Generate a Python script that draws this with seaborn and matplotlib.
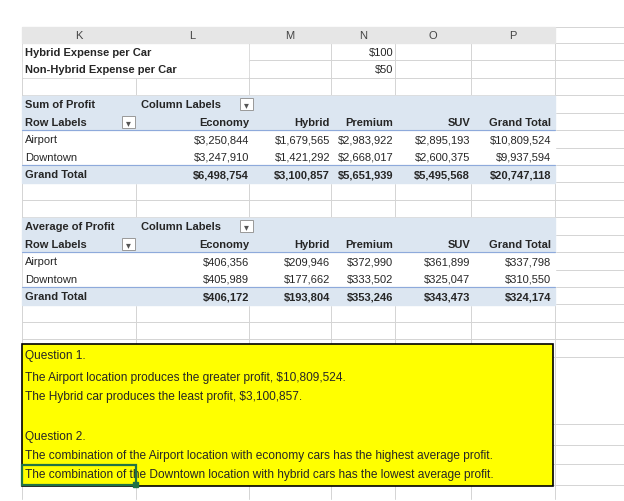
import matplotlib.pyplot as plt
import matplotlib.patches as mpatches
import seaborn as sns

sns.set_theme(style="white")
plt.rcParams['font.family'] = ['Liberation Sans', 'DejaVu Sans']

col_letters = ['K', 'L', 'M', 'N', 'O', 'P']
col_edges = [22, 136, 249, 331, 395, 471, 555]

expense_labels = ['Hybrid Expense per Car', 'Non-Hybrid Expense per Car']
expense_values = ['$100', '$50']

pivot_cols = ['Economy', 'Hybrid', 'Premium', 'SUV', 'Grand Total']
row_labels = ['Airport', 'Downtown', 'Grand Total']
sum_values = [
    ['$3,250,844', '$1,679,565', '$2,983,922', '$2,895,193', '$10,809,524'],
    ['$3,247,910', '$1,421,292', '$2,668,017', '$2,600,375', '$9,937,594'],
    ['$6,498,754', '$3,100,857', '$5,651,939', '$5,495,568', '$20,747,118'],
]
avg_values = [
    ['$406,356', '$209,946', '$372,990', '$361,899', '$337,798'],
    ['$405,989', '$177,662', '$333,502', '$325,047', '$310,550'],
    ['$406,172', '$193,804', '$353,246', '$343,473', '$324,174'],
]
notes = [
    'Question 1.',
    'The Airport location produces the greater profit, $10,809,524.',
    'The Hybrid car produces the least profit, $3,100,857.',
    '',
    'Question 2.',
    'The combination of the Airport location with economy cars has the highest average profit.',
    'The combination of the Downtown location with hybrid cars has the lowest average profit.',
]
note_y = [356, 378, 397, 418, 437, 456, 475]

fig = plt.figure(figsize=(6.24, 5.02), dpi=100)
ax = fig.add_axes([0, 0, 1, 1])
ax.set_xlim(0, 624)
ax.set_ylim(502, 0)
ax.axis('off')

fs = 8.0
row_y = [53 + 17.43 * i for i in range(15)]
row_edges = [28, 44] + [44 + 17.43 * (i + 1) for i in range(18)]

# grid
for x in col_edges:
    ax.plot([x, x], [28, 500], color='#d4d4d4', lw=0.7, zorder=0.5)
for y in row_edges + [425, 446, 465, 486]:
    ax.plot([22, 624], [y, y], color='#d4d4d4', lw=0.7, zorder=0.5)
ax.add_patch(mpatches.Rectangle((22, 28), 533, 16, color='#e6e6e6', zorder=1))
for i, c in enumerate(col_letters):
    ax.text((col_edges[i] + col_edges[i + 1]) / 2, 36, c, ha='center', va='center',
            fontsize=fs, color='#444444', zorder=3)

for lab, val, y in zip(expense_labels, expense_values, row_y[:2]):
    ax.add_patch(mpatches.Rectangle((23, y - 8), 225, 16, color='white', zorder=0.8))
    ax.text(25, y, lab, va='center', fontsize=fs, weight='bold', zorder=3)
    ax.text(393, y, val, va='center', ha='right', fontsize=fs, zorder=3)

rights = [249, 330, 393, 470, 551]


def pivot(r0, title, values):
    blue = '#dce6f1'
    ax.add_patch(mpatches.Rectangle((22.5, row_y[r0] - 8.7), 532, 17.43 * 5, color='white', zorder=0.8))
    for rr in (r0, r0 + 1, r0 + 4):
        ax.add_patch(mpatches.Rectangle((22, row_y[rr] - 8.7), 533, 17.4, color=blue, zorder=1))
    ax.plot([22, 555], [row_y[r0 + 4] - 8.7] * 2, color='#8eaadb', lw=0.8, zorder=2)
    ax.plot([22, 555], [row_y[r0 + 1] + 8.7] * 2, color='#8eaadb', lw=0.8, zorder=2)
    ax.text(25, row_y[r0], title, va='center', fontsize=fs, weight='bold', zorder=3)
    ax.text(141, row_y[r0], 'Column Labels', va='center', fontsize=fs, weight='bold', zorder=3)
    ax.text(25, row_y[r0 + 1], 'Row Labels', va='center', fontsize=fs, weight='bold', zorder=3)
    for bx, by in ((240, row_y[r0]), (122, row_y[r0 + 1])):
        ax.add_patch(mpatches.Rectangle((bx, by - 6), 13, 12, fc='white', ec='#999999', lw=0.7, zorder=3))
        ax.text(bx + 6.5, by, '▾', ha='center', va='center', fontsize=7, color='#555555', zorder=4)
    for c, x in zip(pivot_cols, rights):
        ax.text(x, row_y[r0 + 1], c, ha='right', va='center', fontsize=fs, weight='bold', zorder=3)
    for i, (lab, vals) in enumerate(zip(row_labels, values)):
        w = 'bold' if i == 2 else 'normal'
        y = row_y[r0 + 2 + i]
        ax.text(25, y, lab, va='center', fontsize=fs, weight=w, zorder=3)
        for v, x in zip(vals, rights):
            ax.text(x, y, v, ha='right', va='center', fontsize=fs, weight=w, zorder=3)


pivot(3, 'Sum of Profit', sum_values)
pivot(10, 'Average of Profit', avg_values)

ax.add_patch(mpatches.Rectangle((22, 345), 531, 142, fc='#ffff00', ec='black', lw=1.2, zorder=2))
for t, y in zip(notes, note_y):
    ax.text(25, y, t, va='center', fontsize=fs + 0.6, zorder=3)
ax.add_patch(mpatches.Rectangle((22, 466), 114, 20, fc='none', ec='#217346', lw=1.6, zorder=4))
ax.add_patch(mpatches.Rectangle((133, 483), 5, 5, color='#217346', zorder=5))

fig.savefig('out.png', dpi=100)
